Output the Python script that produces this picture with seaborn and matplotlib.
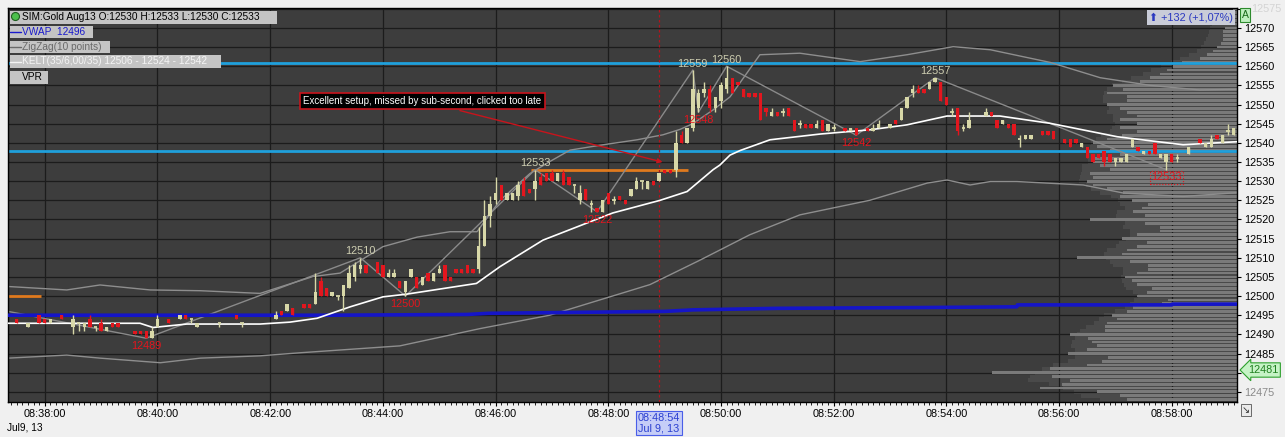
import matplotlib
matplotlib.use("Agg")
import matplotlib.pyplot as plt
from matplotlib.patches import Rectangle, Ellipse
from matplotlib.lines import Line2D
import seaborn as sns
import pandas as pd
import numpy as np

# ---- 6-second bars, x = bar number counted from 08:37:00
bar_idx = [5, 7, 9, 10, 11, 13, 15, 16, 17, 18, 19, 20, 21, 22, 23, 26, 27, 28, 29, 30,
           32, 34, 35, 36, 37, 41, 44, 45,
           51, 52, 53, 54, 56, 57, 58, 59, 60, 61, 62, 63, 64, 65, 66, 67, 69, 70, 71, 72,
           73, 74, 75, 76, 77, 78, 79, 80, 81, 82, 83, 84, 85, 86, 87, 88, 89, 90,
           91, 92, 93, 94, 95, 96, 97, 98, 99, 100, 101, 102, 103, 104, 105, 106, 107, 108,
           109, 110, 111, 112, 113, 114, 115, 116, 117, 118, 119, 120, 121, 122, 123, 124,
           125, 126, 127, 128, 129, 130, 131,
           132, 133, 134, 135, 136, 137, 138, 139, 140, 141, 142, 143, 144, 145, 146, 147,
           148, 149, 150, 152, 153, 154, 156, 157, 158, 160, 161, 162, 163, 164, 165, 166,
           167, 168, 169, 170, 171, 172, 173, 174, 177,
           178, 179, 180, 181, 182, 183, 184, 185, 187, 188, 189, 191, 192, 193, 194, 195,
           196, 197, 198, 199, 200, 201, 202, 203, 204, 205, 206, 207, 208, 209, 210, 211,
           213, 215, 216, 217, 218, 219, 220, 221]
bar_open = [12494, 12492, 12495, 12494, 12493, 12495, 12492, 12493, 12492, 12494, 12492, 12493, 12491, 12493,
            12493, 12491, 12491, 12491, 12489, 12492, 12494, 12494, 12495, 12494, 12492, 12493, 12495, 12493,
            12494, 12496, 12496, 12497, 12498, 12498, 12498, 12504, 12502, 12500, 12500, 12500, 12502, 12505,
            12507, 12508, 12509, 12508, 12505, 12505, 12504, 12501, 12505, 12505, 12503, 12506, 12504, 12506,
            12508, 12505, 12507, 12507, 12508, 12507, 12507, 12513, 12521, 12525,
            12529, 12525, 12525, 12526, 12530, 12528, 12528, 12531, 12532, 12532, 12530, 12532, 12531, 12529,
            12525, 12528, 12524, 12523, 12522, 12527, 12525, 12526, 12525, 12526, 12528, 12530, 12528, 12530,
            12530, 12533, 12533, 12533, 12542, 12540, 12544, 12549, 12553, 12554, 12549, 12551, 12554,
            12557, 12556, 12554, 12553, 12553, 12553, 12549, 12547, 12548, 12548, 12549, 12546, 12545, 12545,
            12545, 12544, 12546, 12543, 12544, 12544, 12543, 12544, 12544, 12543, 12544, 12544, 12546, 12546,
            12549, 12553, 12554, 12554, 12554, 12556, 12556, 12552, 12548, 12549, 12544, 12544, 12547,
            12548, 12546, 12545, 12545, 12545, 12541, 12541, 12541, 12543, 12543, 12543, 12541, 12541, 12541,
            12539, 12539, 12537, 12537, 12538, 12537, 12535, 12535, 12535, 12539, 12539, 12537, 12538, 12540,
            12536, 12535, 12537, 12536, 12537, 12541, 12539, 12539, 12542, 12540, 12543, 12542]
bar_high = [12494, 12493, 12495, 12494, 12494, 12495, 12495, 12493, 12493, 12495, 12492, 12494, 12492, 12493,
            12493, 12491, 12491, 12491, 12492, 12495, 12494, 12495, 12495, 12494, 12493, 12493, 12495, 12493,
            12496, 12496, 12498, 12497, 12498, 12498, 12506, 12505, 12502, 12501, 12500, 12503, 12508, 12509,
            12510, 12508, 12509, 12508, 12507, 12507, 12504, 12504, 12507, 12505, 12505, 12506, 12506, 12508,
            12508, 12505, 12507, 12507, 12508, 12507, 12518, 12525, 12526, 12531,
            12529, 12527, 12527, 12530, 12531, 12528, 12533, 12532, 12532, 12533, 12532, 12533, 12531, 12529,
            12529, 12528, 12525, 12523, 12525, 12527, 12526, 12526, 12525, 12528, 12531, 12530, 12530, 12530,
            12532, 12533, 12533, 12543, 12543, 12544, 12559, 12554, 12556, 12555, 12552, 12556, 12560,
            12557, 12556, 12554, 12553, 12553, 12553, 12549, 12549, 12548, 12549, 12549, 12546, 12546, 12545,
            12545, 12546, 12546, 12545, 12545, 12544, 12544, 12544, 12544, 12545, 12546, 12545, 12546, 12549,
            12552, 12555, 12555, 12554, 12556, 12557, 12556, 12552, 12549, 12549, 12545, 12548, 12549,
            12548, 12546, 12546, 12545, 12545, 12542, 12542, 12542, 12543, 12543, 12543, 12541, 12541, 12541,
            12540, 12539, 12537, 12537, 12538, 12537, 12536, 12536, 12537, 12541, 12539, 12538, 12538, 12540,
            12537, 12537, 12537, 12537, 12539, 12541, 12540, 12542, 12542, 12542, 12545, 12544]
bar_low = [12493, 12492, 12493, 12493, 12493, 12494, 12490, 12491, 12491, 12492, 12491, 12491, 12491, 12492,
           12492, 12490, 12490, 12489, 12489, 12492, 12493, 12494, 12494, 12493, 12492, 12492, 12494, 12492,
           12494, 12495, 12496, 12495, 12497, 12497, 12498, 12500, 12500, 12500, 12499, 12496, 12502, 12504,
           12506, 12506, 12506, 12505, 12505, 12505, 12502, 12500, 12505, 12502, 12503, 12504, 12504, 12506,
           12504, 12504, 12506, 12506, 12506, 12506, 12506, 12513, 12518, 12524,
           12525, 12525, 12525, 12525, 12526, 12527, 12525, 12529, 12530, 12530, 12530, 12529, 12529, 12527,
           12524, 12525, 12522, 12522, 12522, 12524, 12524, 12525, 12524, 12526, 12528, 12528, 12528, 12529,
           12530, 12532, 12532, 12531, 12540, 12540, 12543, 12548, 12552, 12548, 12548, 12549, 12553,
           12553, 12555, 12552, 12552, 12552, 12546, 12547, 12547, 12547, 12547, 12547, 12543, 12544, 12544,
           12544, 12544, 12543, 12543, 12543, 12543, 12543, 12542, 12543, 12543, 12544, 12544, 12545, 12546,
           12549, 12552, 12553, 12553, 12554, 12556, 12551, 12550, 12547, 12542, 12543, 12544, 12547,
           12547, 12544, 12545, 12544, 12542, 12539, 12541, 12541, 12542, 12542, 12541, 12540, 12539, 12540,
           12539, 12536, 12535, 12536, 12534, 12535, 12534, 12535, 12535, 12539, 12538, 12537, 12537, 12537,
           12536, 12533, 12535, 12535, 12537, 12540, 12539, 12539, 12541, 12540, 12542, 12542]
bar_close = [12493, 12493, 12493, 12493, 12494, 12494, 12494, 12493, 12493, 12492, 12492, 12491, 12492, 12492,
             12492, 12490, 12490, 12489, 12491, 12494, 12493, 12495, 12494, 12494, 12493, 12493, 12494, 12493,
             12495, 12495, 12498, 12495, 12497, 12497, 12501, 12500, 12500, 12501, 12500, 12503, 12506, 12508,
             12508, 12506, 12506, 12505, 12506, 12506, 12502, 12504, 12507, 12502, 12505, 12504, 12506, 12507,
             12504, 12504, 12506, 12506, 12506, 12506, 12513, 12521, 12524, 12527,
             12525, 12527, 12527, 12529, 12526, 12527, 12530, 12529, 12530, 12530, 12532, 12529, 12529, 12529,
             12527, 12525, 12524, 12522, 12525, 12524, 12525, 12525, 12524, 12528, 12530, 12530, 12530, 12529,
             12532, 12532, 12532, 12540, 12540, 12544, 12554, 12553, 12554, 12549, 12552, 12555, 12557,
             12553, 12555, 12552, 12552, 12552, 12546, 12548, 12548, 12547, 12548, 12547, 12543, 12545, 12544,
             12544, 12545, 12543, 12545, 12544, 12543, 12544, 12542, 12543, 12544, 12545, 12545, 12545, 12549,
             12552, 12554, 12553, 12553, 12556, 12557, 12551, 12550, 12548, 12543, 12544, 12546, 12548,
             12547, 12544, 12546, 12544, 12542, 12541, 12542, 12542, 12542, 12542, 12541, 12540, 12539, 12540,
             12540, 12536, 12535, 12536, 12535, 12535, 12536, 12536, 12537, 12541, 12538, 12538, 12537, 12537,
             12537, 12537, 12535, 12536, 12539, 12540, 12540, 12541, 12541, 12542, 12543, 12544]

# ---- indicator lines (bar number, price)
kelt_mid_x = [3.5, 26.9, 29.2, 35.2, 48.2, 53.5, 58.3, 64.2, 70.0, 74.2, 86.6, 90.8, 98.4, 110.8, 119.2,
              124.0, 128.6, 129.8, 131.6, 133.4, 138.7, 147.6, 156.4, 163.0, 170.1, 179.5, 188.4, 200.3,
              212.0, 221.6]
kelt_mid_y = [12492.9, 12492.9, 12491.8, 12492.7, 12492.7, 12493.2, 12494.2, 12497.2, 12499.8, 12500.5,
              12503.3, 12507.7, 12514.6, 12521.7, 12525.0, 12527.3, 12533.0, 12534.2, 12536.8, 12538.0,
              12540.8, 12542.3, 12543.4, 12544.7, 12547.0, 12547.0, 12545.1, 12541.6, 12539.5, 12540.3]
kelt_up_x = [3.5, 13.9, 19.8, 28.7, 37.6, 48.2, 57.6, 62.4, 70.0, 76.1, 81.9, 86.7, 90.8, 96.1, 99.6,
             103.2, 109.1, 115.1, 119.7, 122.7, 125.0, 128.6, 131.6, 136.9, 144.0, 154.7, 163.0, 171.2,
             177.8, 188.4, 197.3, 206.2, 215.0, 221.6]
kelt_up_y = [12502.5, 12501.6, 12502.9, 12501.6, 12501.4, 12500.7, 12505.1, 12506.0, 12512.9, 12515.4,
             12516.8, 12516.8, 12525.0, 12532.0, 12535.1, 12538.1, 12539.5, 12540.8, 12542.1, 12543.5,
             12545.0, 12548.6, 12552.0, 12563.0, 12563.4, 12561.2, 12563.0, 12565.1, 12564.3, 12561.0,
             12557.0, 12555.0, 12553.8, 12554.0]
kelt_lo_x = [3.5, 13.9, 19.8, 30.5, 37.6, 48.2, 55.3, 73.0, 87.2, 99.6, 108.5, 117.4, 126.3, 135.1,
             144.0, 156.4, 166.6, 170.1, 174.2, 177.8, 182.5, 194.3, 201.4, 212.0, 221.6]
kelt_lo_y = [12483.8, 12484.6, 12483.8, 12482.6, 12483.8, 12484.4, 12485.2, 12487.0, 12491.5, 12495.0,
             12499.0, 12503.0, 12509.4, 12516.0, 12521.2, 12525.0, 12529.5, 12530.3, 12529.0, 12529.9,
             12529.9, 12529.0, 12526.9, 12526.0, 12527.0]
vwap_x = [3.5, 60, 85, 88.7, 120, 125, 140, 165, 182.5, 182.6, 210, 210.1, 221.6]
vwap_y = [12495.0, 12495.0, 12495.2, 12495.5, 12496.0, 12496.4, 12496.8, 12497.0, 12497.2, 12497.7,
          12497.7, 12497.9, 12497.9]

# ---- zigzag pivots
zz_x = [0, 28, 66, 74, 97, 108, 125, 126, 131, 154, 168, 209]
zz_y = [12497, 12489, 12510, 12500, 12533, 12522, 12559, 12548, 12560, 12542, 12557, 12533]

# ---- drawn objects
cyan_levels = [12560.8, 12537.8]
orange_x0 = [3.0, 96.3]
orange_x1 = [9.3, 124.2]
orange_y = [12500, 12533]
cursor_bar = 119

# ---- volume profile (VPR), one row per price point 12473..12575
vpr_price = list(range(12473, 12576))
vpr_volume = [110, 117, 140, 197, 175, 167, 185, 245, 187, 150, 135, 129, 169, 150, 140, 145, 149, 167,
              132, 132, 130, 120, 125, 110, 104, 75, 69, 100, 90, 85, 100, 105, 112, 100, 89, 89, 107,
              160, 115, 110, 100, 90, 115, 100, 77, 77, 92, 147, 92, 104, 95, 89, 105, 117, 114, 130,
              144, 150, 144, 147, 127, 137, 144, 144, 117, 127, 140, 144, 130, 115, 100, 117, 100, 117,
              100, 110, 117, 130, 110, 110, 130, 114, 124, 97, 87, 77, 70, 64, 55, 37, 30, 24, 20, 16,
              14, 14, 14, 12, 10, 8, 6, 5, 4]

tick_bars = [10, 30, 50, 70, 90, 110, 130, 150, 170, 190, 210]
tick_labels = ["08:38:00", "08:40:00", "08:42:00", "08:44:00", "08:46:00", "08:48:00",
               "08:50:00", "08:52:00", "08:54:00", "08:56:00", "08:58:00"]
price_ticks = list(range(12475, 12576, 5))

BG = "#3d3d3d"
UP = "#d8d8a8"
DOWN = "#e3161e"
HIGH_LBL = "#cfcfb2"

sns.set_theme(style="dark", rc={"axes.facecolor": BG, "figure.facecolor": "#f0f0f0"})
plt.rcParams["font.family"] = ["Liberation Sans", "DejaVu Sans"]

W, H = 1285, 437
fig = plt.figure(figsize=(W / 100, H / 100), dpi=100)
ax = fig.add_axes([8 / W, 35 / H, 1229 / W, 394 / H])
x_lo, x_hi = 3.47, 221.57
y_lo, y_hi = 12472.35, 12575.2
ax.set_xlim(x_lo, x_hi)
ax.set_ylim(y_lo, y_hi)
ax.set_facecolor(BG)

# grid
ax.set_axisbelow(True)
ax.grid(True, color="#1c1c1c", lw=0.9)

# volume profile drawn from the right edge
px = (x_hi - x_lo) / 1229
vol = np.array(vpr_volume, dtype=float)
dark = (pd.Series(vol).rolling(5, center=True, min_periods=1).mean() + 15).values
ax.barh(vpr_price, dark * px, left=x_hi - dark * px, height=1.0, color="#4a4a4a", lw=0, zorder=0.2)
ax.barh(vpr_price, vol * px, left=x_hi - vol * px, height=0.72, color="#7a7a7a", lw=0, zorder=0.8)

# horizontal levels
for lv in cyan_levels:
    ax.axhline(lv, color="#1fa0dc", lw=2, zorder=2)
for a, b, lv in zip(orange_x0, orange_x1, orange_y):
    ax.hlines(lv, a, b, color="#e07a1e", lw=2, zorder=2)

# keltner + vwap + zigzag
sns.lineplot(x=kelt_up_x, y=kelt_up_y, ax=ax, color="#8e8e8e", lw=1, sort=False, estimator=None, zorder=2)
sns.lineplot(x=kelt_lo_x, y=kelt_lo_y, ax=ax, color="#8e8e8e", lw=1, sort=False, estimator=None, zorder=2)
sns.lineplot(x=zz_x, y=zz_y, ax=ax, color="#8a8a8a", lw=1, sort=False, estimator=None, zorder=2)
sns.lineplot(x=vwap_x, y=vwap_y, ax=ax, color="#1515c8", lw=2.6, sort=False, estimator=None, zorder=3)
sns.lineplot(x=kelt_mid_x, y=kelt_mid_y, ax=ax, color="white", lw=1.2, sort=False, estimator=None, zorder=3)

# cursor line
ax.axvline(cursor_bar, color="#b4141c", lw=0.9, ls=(0, (2, 2)), zorder=2.5)

# candles
df = pd.DataFrame({"x": bar_idx, "o": bar_open, "h": bar_high, "l": bar_low, "c": bar_close})
down = df.c < df.o
col = np.where(down, DOWN, UP)
ax.vlines(df.x, df.l, df.h, colors=col, lw=1, zorder=4)
body = (df.c - df.o).abs()
has_body = body > 0
ax.bar(df.x[has_body], body[has_body], bottom=np.minimum(df.o, df.c)[has_body], width=0.6,
       color=col[has_body.values], lw=0, zorder=5)
doji = ~has_body
ax.hlines(df.o[doji], df.x[doji] - 0.32, df.x[doji] + 0.32, colors=UP, lw=1.3, zorder=5)

# zigzag labels
for i in range(1, len(zz_x)):
    is_high = zz_y[i] > zz_y[i - 1]
    kw = dict(ha="center", fontsize=7.8, zorder=6, textcoords="offset points")
    if is_high:
        ax.annotate(str(zz_y[i]), (zz_x[i], zz_y[i]), xytext=(0, 1), va="bottom", color=HIGH_LBL, **kw)
    else:
        box = dict(boxstyle="square,pad=0.1", fc="none", ec=DOWN, lw=0.8, ls=":") if i == len(zz_x) - 1 else None
        ax.annotate(str(zz_y[i]), (zz_x[i], zz_y[i]), xytext=(0, -2), va="top", color=DOWN, bbox=box, **kw)

# note with arrow
ax.annotate("", xy=(120.1, 12534.8), xytext=(83.2, 12548.6),
            arrowprops=dict(arrowstyle="-|>", color="#c8141c", lw=1, mutation_scale=7), zorder=6)
ax.text(77, 12550.9, "Excellent setup, missed by sub-second, clicked too late", color="white",
        fontsize=7, ha="center", va="center", zorder=7,
        bbox=dict(boxstyle="square,pad=0.35", fc="black", ec="#c8141c", lw=1.2))

# axes / ticks (12480 sits under the last-price tag, 12575 is drawn faint by hand)
ax.set_xticks(tick_bars)
ax.set_xticklabels(tick_labels)
ax.set_xticks(np.arange(4, 222), minor=True)
ax.yaxis.tick_right()
ax.set_yticks(price_ticks)
ax.set_yticklabels(["" if p in (12480, 12575) else str(p) for p in price_ticks])
ax.tick_params(axis="both", which="major", direction="out", length=3, width=0.8, color="black",
               labelsize=7.8, labelcolor="black", pad=2, bottom=True, right=True)
ax.tick_params(axis="x", which="minor", direction="out", length=2, width=0.6, color="black", bottom=True)
for t in ax.get_yticklabels():
    if t.get_text() == "12475":
        t.set_color("#8a8a8a")
for s in ax.spines.values():
    s.set_color("black")
    s.set_linewidth(1)
ax.set_xlabel("")
ax.set_ylabel("")


def fx(p):
    return p / W


def fy(p):
    return 1 - p / H


# legend rows
rows = [(11, 24, 277, "SIM:Gold Aug13 O:12530 H:12533 L:12530 C:12533", "black", None),
        (26, 38, 93, "VWAP  12496", "#1a1acd", "#1a1acd"),
        (41, 53, 110, "ZigZag(10 points)", "#6a6a6a", "#6a6a6a"),
        (55, 68, 221, "KELT(35/6,00/35) 12506 - 12524 - 12542", "#f4f4f4", "#f4f4f4"),
        (71, 84, 48, "VPR", "black", None)]
for top, bot, right, txt, tc, lc in rows:
    fig.add_artist(Rectangle((fx(10), fy(bot)), (right - 10) / W, (bot - top) / H,
                             transform=fig.transFigure, fc="#c4c4c4", ec="none", zorder=8))
    fig.text(fx(22), fy((top + bot) / 2), txt, fontsize=7.3, color=tc, ha="left", va="center", zorder=9)
    if lc:
        fig.add_artist(Line2D([fx(10), fx(21)], [fy((top + bot) / 2)] * 2, color=lc, lw=1,
                              transform=fig.transFigure, zorder=9))
fig.add_artist(Ellipse((fx(15.5), fy(16.5)), 8 / W, 8 / H, transform=fig.transFigure,
                       fc="#4cc04c", ec="#1f5f1f", lw=0.8, zorder=9))

# top right change box, "A" marker and faint top price
fig.text(fx(1191), fy(17.5), "\u2b06 +132 (+1,07%)", fontsize=7.8, color="#2a38c0", ha="center",
         va="center", zorder=9, bbox=dict(boxstyle="square,pad=0.2", fc="#c9ccd8", ec="none"))
fig.text(fx(1266), fy(9), "12575", fontsize=7.8, color="#d4d4d4", ha="center", va="center", zorder=8)
fig.text(fx(1245), fy(15), "A", fontsize=7.5, color="#1a6a1a", ha="center", va="center", zorder=9,
         bbox=dict(boxstyle="square,pad=0.15", fc="#bff0bf", ec="#2d8a2d", lw=0.8))

# last price tag
fig.text(fx(1263), fy(370), "12481", fontsize=7.8, color="#208020", ha="center", va="center", zorder=9,
         bbox=dict(boxstyle="larrow,pad=0.2", fc="#c6f3c6", ec="#2ea02e", lw=0.8))

# cursor time label and date
fig.text(fx(659), fy(423), "08:48:54\nJul 9, 13", fontsize=7.8, color="#2a3fd0", ha="center",
         va="center", linespacing=1.05, zorder=9,
         bbox=dict(boxstyle="square,pad=0.2", fc="#c5cdf7", ec="#4a5ee8", lw=0.8))
fig.text(fx(7), fy(428), "Jul9, 13", fontsize=7.3, color="black", ha="left", va="center")
fig.text(fx(1246), fy(410), "\u2198", fontsize=7, color="#333333", ha="center", va="center",
         family=["DejaVu Sans"],
         bbox=dict(boxstyle="square,pad=0.1", fc="#eaeaea", ec="#555555", lw=0.6))

fig.savefig("out.png", dpi=100, facecolor=fig.get_facecolor())
